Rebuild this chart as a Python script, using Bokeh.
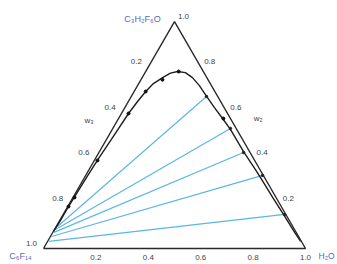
import math
from bokeh.plotting import figure
from bokeh.models import Range1d
from bokeh.embed import file_html
from bokeh.resources import INLINE
from bokeh.core.properties import value

# Compositions as mass fractions: a = w(C3H2F6O) (apex), h = w(H2O) (bottom right);
# w(C6F14) = 1 - a - h (bottom left)
curve_a = [0.075, 0.123, 0.185, 0.234, 0.313, 0.397, 0.489, 0.595, 0.648, 0.692,
           0.727, 0.753, 0.773, 0.780, 0.775, 0.753, 0.718, 0.678, 0.621, 0.573,
           0.524, 0.427, 0.348, 0.291, 0.225, 0.150, 0.071, 0.031]
curve_h = [0.001, 0.003, 0.003, 0.005, 0.008, 0.012, 0.019, 0.027, 0.035, 0.044,
           0.056, 0.078, 0.098, 0.122, 0.154, 0.192, 0.236, 0.279, 0.342, 0.397,
           0.452, 0.550, 0.635, 0.694, 0.762, 0.841, 0.923, 0.966]

exp_a = [0.185, 0.225, 0.388, 0.595, 0.692, 0.744, 0.780, 0.573]
exp_h = [0.003, 0.006, 0.012, 0.027, 0.044, 0.082, 0.126, 0.400]

tie_left_a = [0.097, 0.084, 0.070, 0.053, 0.031]
tie_left_h = [0.005, 0.004, 0.003, 0.004, 0.004]
tie_right_a = [0.670, 0.529, 0.423, 0.322, 0.150]
tie_right_h = [0.287, 0.449, 0.552, 0.675, 0.845]

tick_values = [0.2, 0.4, 0.6, 0.8, 1.0]
tick_labels = ["0.2", "0.4", "0.6", "0.8", "1.0"]

S = math.sqrt(3) / 2


def xy(a, h):
    return h + a / 2.0, a * S


def xys(alist, hlist):
    pts = [xy(a, h) for a, h in zip(alist, hlist)]
    return [q[0] for q in pts], [q[1] for q in pts]


p = figure(width=337, height=264, output_backend="svg", toolbar_location=None,
           x_range=Range1d(-0.1641, 1.1221), y_range=Range1d(-0.0611, 0.9466),
           min_border=0)
p.axis.visible = False
p.grid.visible = False
p.outline_line_color = None
p.background_fill_color = "white"

FONT = value("Liberation Sans")

# triangle frame (corners: C6F14, H2O, C3H2F6O)
corner_a = [0.0, 0.0, 1.0, 0.0]
corner_h = [0.0, 1.0, 0.0, 0.0]
tx, ty = xys(corner_a, corner_h)
p.line(tx, ty, line_color="#2a2a2a", line_width=1.4)

# tie lines
for la, lh, ra, rh in zip(tie_left_a, tie_left_h, tie_right_a, tie_right_h):
    x0, y0 = xy(la, lh)
    x1, y1 = xy(ra, rh)
    p.line([x0, x1], [y0, y1], line_color="#5bb6e2", line_width=1.2)

# binodal curve
cx, cy = xys(curve_a, curve_h)
p.line(cx, cy, line_color="#1e1e1e", line_width=1.4)

# experimental points
ex, ey = xys(exp_a, exp_h)
p.scatter(ex, ey, size=3, color="#111111")
lx, ly = xys(tie_right_a, tie_right_h)
p.scatter(lx, ly, size=2.5, color="#222222")

# bottom axis labels (H2O)
bx, by = xys([0.0] * len(tick_values), tick_values)
p.text(bx, by, text=tick_labels, x_offset=0, y_offset=9, text_font=FONT,
       text_font_size="8px", text_align="center", text_baseline="middle",
       text_color="#444444")

# left axis labels (w3, C6F14)
lx2, ly2 = xys([1 - v for v in tick_values], [0.0] * len(tick_values))
p.text(lx2, ly2, text=tick_labels, x_offset=-12, y_offset=-5, text_font=FONT,
       text_font_size="8px", text_align="center", text_baseline="middle",
       text_color="#444444")

# right axis labels (w2, C3H2F6O)
rx2, ry2 = xys(tick_values, [1 - v for v in tick_values])
p.text(rx2, ry2, text=tick_labels, x_offset=9, y_offset=-5, text_font=FONT,
       text_font_size="8px", text_align="center", text_baseline="middle",
       text_color="#444444")

# axis names
wx, wy = xys([0.5, 0.56], [0.0, 0.44])
p.text([wx[0]], [wy[0]], text=["w\u2083"], x_offset=-20, y_offset=-15, text_font=FONT,
       text_font_size="8px", text_align="center", text_baseline="middle",
       text_color="#444444")
p.text([wx[1]], [wy[1]], text=["w\u2082"], x_offset=26, y_offset=-3, text_font=FONT,
       text_font_size="8px", text_align="center", text_baseline="middle",
       text_color="#444444")

# component names at corners
kx, ky = xys([1.0, 0.0, 0.0], [0.0, 0.0, 1.0])
p.text([kx[0]], [ky[0]], text=["C\u2083H\u2082F\u2086O"], x_offset=-32, y_offset=-3,
       text_font=FONT, text_font_size="9px", text_align="center",
       text_baseline="middle", text_color="#5468c8")
p.text([kx[1]], [ky[1]], text=["C\u2086F\u2081\u2084"], x_offset=-23, y_offset=8,
       text_font=FONT, text_font_size="9px", text_align="center",
       text_baseline="middle", text_color="#5468c8")
p.text([kx[2]], [ky[2]], text=["H\u2082O"], x_offset=13, y_offset=8,
       text_font=FONT, text_font_size="8.5px", text_align="left",
       text_baseline="middle", text_color="#5468c8")

open("out.html", "w").write(file_html(p, INLINE))
